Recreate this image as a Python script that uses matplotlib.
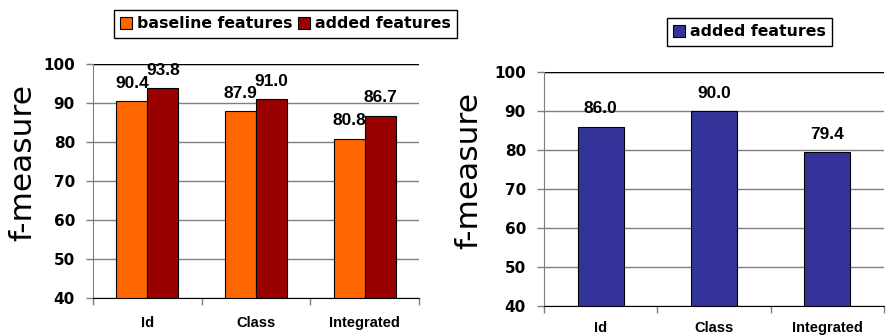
import matplotlib.pyplot as plt
import numpy as np

categories = ['Id', 'Class', 'Integrated']
baseline = [90.4, 87.9, 80.8]
added = [93.8, 91.0, 86.7]
added_only = [86.0, 90.0, 79.4]
yticks = [40, 50, 60, 70, 80, 90, 100]

ORANGE = '#FF6600'
DARKRED = '#990000'
BLUE = '#333399'
GRID = '#7f7f7f'

label_font = dict(family=['Liberation Sans Narrow', 'Liberation Sans'], weight='bold', size=12.5)

fig = plt.figure(figsize=(8.92, 3.36), dpi=100)
ax1 = fig.add_axes([0.1043, 0.1131, 0.3655, 0.6964])
ax2 = fig.add_axes([0.6099, 0.0893, 0.3812, 0.6964])


def style(ax, xpad):
    ax.set_ylim(40, 100)
    ax.set_xlim(-0.5, 2.5)
    ax.set_yticks(yticks)
    ax.set_xticks(range(len(categories)))
    ax.set_xticklabels(categories, family='Liberation Sans', weight='bold', size=10.5)
    ax.set_xticks([-0.5, 0.5, 1.5, 2.5], minor=True)
    ax.tick_params(axis='x', which='major', length=0, pad=xpad)
    ax.tick_params(axis='x', which='minor', length=5, width=1, color=GRID, direction='out')
    ax.tick_params(axis='y', length=5, width=1, color=GRID, pad=8, labelsize=11)
    for t in ax.get_yticklabels():
        t.set_fontweight('bold')
    ax.grid(axis='y', color=GRID, linewidth=1)
    ax.set_axisbelow(True)
    ax.axhline(100, color='black', linewidth=1, zorder=1)
    ax.spines['top'].set_visible(False)
    ax.spines['right'].set_visible(False)
    ax.spines['left'].set_color(GRID)
    ax.spines['bottom'].set_color('black')
    ax.set_ylabel('f-measure', fontsize=22.5)


def add_labels(ax, bars, vals):
    for b, v in zip(bars, vals):
        ax.annotate(f'{v:.1f}', (b.get_x() + b.get_width() / 2, b.get_height()),
                    xytext=(0, 7.5), textcoords='offset points',
                    ha='center', va='bottom', zorder=5, **label_font)


x = np.arange(len(categories))
w = 0.285
b1 = ax1.bar(x - w / 2, baseline, w, color=ORANGE, edgecolor='black', linewidth=0.8,
             label='baseline features', zorder=2)
b2 = ax1.bar(x + w / 2, added, w, color=DARKRED, edgecolor='black', linewidth=0.8,
             label='added features', zorder=2)
style(ax1, 13)
ax1.yaxis.set_label_coords(-0.172, 0.58)
add_labels(ax1, b1, baseline)
add_labels(ax1, b2, added)

b3 = ax2.bar(x, added_only, 0.406, color=BLUE, edgecolor='black', linewidth=0.8,
             label='added features', zorder=2)
style(ax2, 10.5)
ax2.yaxis.set_label_coords(-0.179, 0.577)
add_labels(ax2, b3, added_only)

leg_kw = dict(loc='center', fancybox=False, framealpha=1, edgecolor='black',
              handlelength=0.75, handleheight=0.75, handletextpad=0.3,
              columnspacing=0.4, borderpad=0.4, borderaxespad=0,
              prop=dict(weight='bold', size=11.3))
l1 = fig.legend(handles=[b1, b2], ncol=2, bbox_to_anchor=(0.320, 0.9286), **leg_kw)
l2 = fig.legend(handles=[b3], ncol=1, bbox_to_anchor=(0.8403, 0.9048), **leg_kw)
for l in (l1, l2):
    l.get_frame().set_linewidth(1)

fig.savefig('out.png', dpi=100)
